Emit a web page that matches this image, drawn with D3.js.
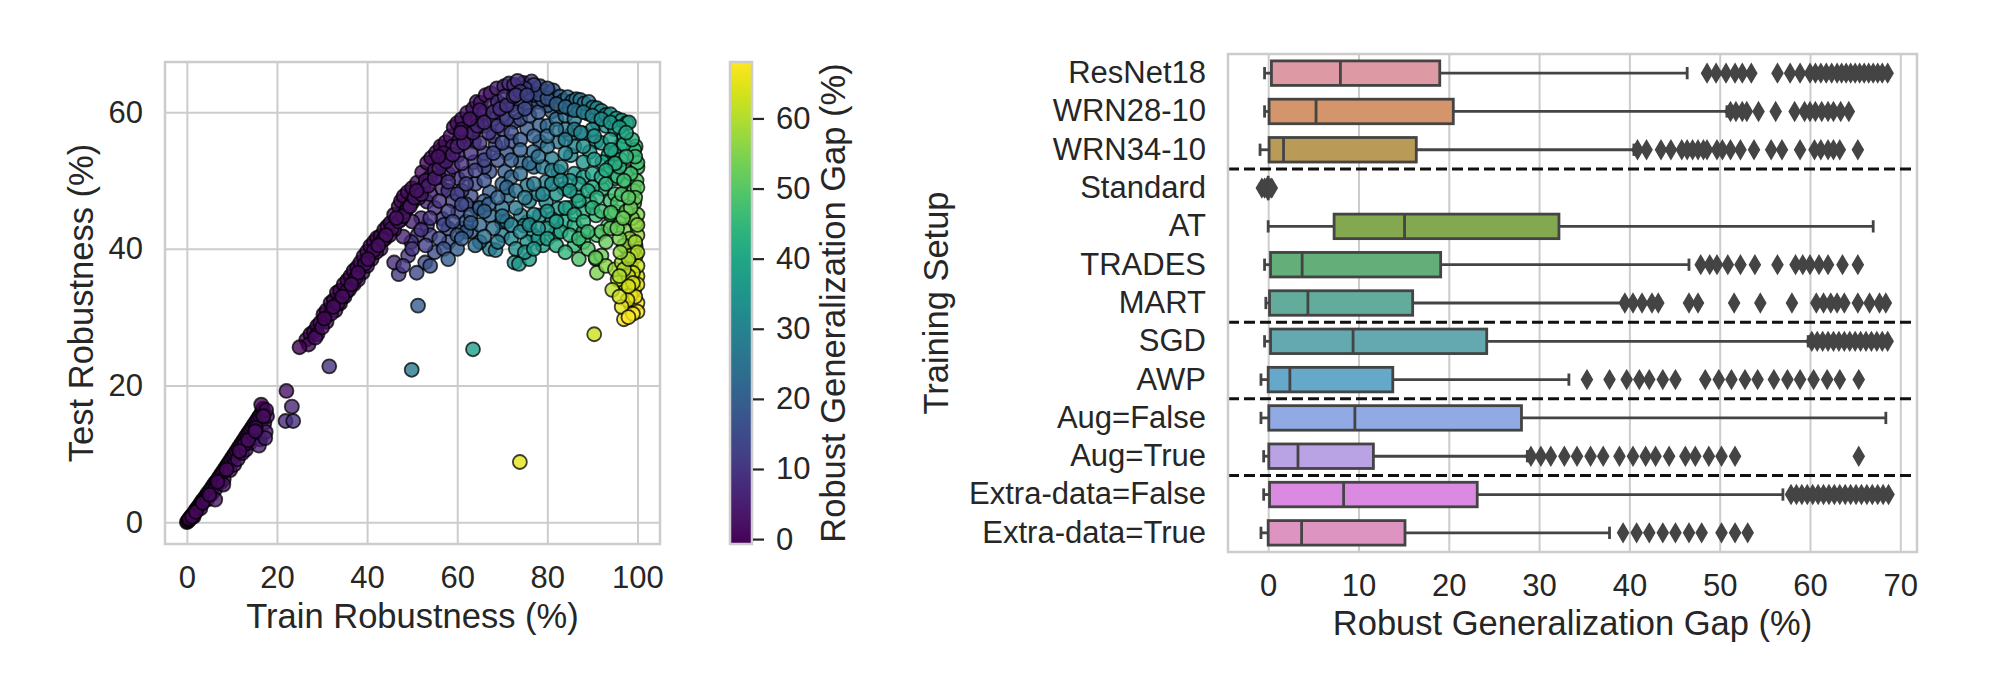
<!DOCTYPE html>
<html lang="en">
<head>
<meta charset="utf-8">
<title>Robust generalization</title>
<script src="https://cdn.jsdelivr.net/npm/d3@7"></script>
<style>
body { margin: 0; background: #fff; }
svg text { font-family: "Liberation Sans", Arial, sans-serif; fill: #262626; }
</style>
</head>
<body>
<script>
// ---- scatter data: [train robustness, test robustness] (%) ----
var lowBand = [
  [0,0],[0.2,0.1],[0.4,0.3],[0.6,0.4],[0.8,0.7],[1,0.9],[1.3,1.1],[1.6,1.4],[1.9,1.7],[2.2,2],
  [2.5,2.2],[2.8,2.5],[3.1,2.8],[3.4,3.1],[3.8,3.4],[4.2,3.8],[4.6,4.2],[5,4.5],[5.4,4.9],[5.8,5.3],
  [6.2,5.7],[6.6,6],[7,6.4],[7.4,6.8],[7.8,7.2],[8.2,7.6],[8.6,8],[9,8.4],[9.4,8.8],[9.8,9.2],
  [10.2,9.6],[10.6,10],[11,10.4],[11.4,10.8],[11.8,11.2],[12.2,11.6],[12.6,12],[13,12.4],[13.4,12.8],
  [13.8,13.2],[14.2,13.6],[14.6,14],[15,14.4],[15.4,14.8],[15.8,15.2],[16.2,15.6],[16.6,16],[16.9,16.6],
  [16.5,17.2],[1.5,0.8],[3,2],[4.5,3.3],[5.5,4.1],[6.3,4.8],[7.5,5.8],[8.2,6.3],[9.6,7.6],[10.5,8.4],
  [11.3,9.2],[12.3,10.1],[13.1,10.6],[14,11.6],[14.8,12.3],[15.6,13],[16.3,12.1],[17.2,14.5],[17.8,15.5],
  [17.5,13.2],[16,11.2],[8.1,5.5],[6.3,3.3],[12.8,11.4],[15.3,13.8],[17.6,16.4],[17.4,12.3],[17,15.5],
  [0.5,0.5],[1.2,0.8],[2,1.5],[3.5,2.8],[5,4],[6.8,5.9],[8.8,7.7],[11.7,10.4],[13.6,12],[15.2,13.3]
];
var isolated = [
  [22.1,19.2],[23.3,16.9],[21.9,14.8],[23.6,14.8],[25.0,25.6],[31.6,22.8],[49.9,22.3],
  [63.5,25.3],[73.9,8.8],[90.4,27.5],[90.7,38.7],[51.3,31.7]
];
var mainBand = [
  [26.5,26.7],[27.4,27.5],[28.2,27.9],[28.9,28.7],[29.6,29.2],[30.3,30.4],[31,31],[31.9,32.1],[32.6,32.5],
  [33.3,33.6],[34,33.9],[34.8,34.8],[35.6,35.4],[36.3,36],[37,36.8],[37.8,37.3],[38.5,38],[39.2,38.9],
  [40,39.6],[40.7,40.4],[41.5,41],[42.2,41.6],[43,41.9],[43.8,42.8],[44.5,43.3],[45.2,43.8],[46,45],
  [47,46.2],[47.5,47],[48.1,47.7],[49,48.3],[50,48.9],[51.1,49.7],[52.2,51.2],[53.3,52.6],[54.2,53.3],
  [55.3,54.1],[56.3,55],[57.4,55.6],[58.5,56.5],[59.2,57.8],[60,58.4],[61,59],[62.2,59.9],[63.5,60.5],
  [64.3,61.5],[65.2,61.4],[66.3,62.5],[67.4,62.8],[68.8,63.5],[70.4,63.8],[71.5,64.2],[72.6,64],[73.4,64.6],
  [29,27.5],[31,29.3],[33,31],[35,33],[37,34.8],[39,36.5],[41,38.5],[43,40],[44,41.5],[46,42.8],
  [47.5,44.3],[48.5,45.5],[50,46.8],[51.5,47.5],[52.5,49],[54,50.5],[55,51.5],[56.5,52.5],[58,53.5],
  [59,55],[60.5,56],[62,57],[63,58.5],[64.5,59],[66,60],[67.5,61],[69,61.5],[70.5,62.3],[36,34],
  [40,37.5],[45,42],[49,46],[53,50],[57,54],[61,57.5],[65,60.3],[42,39.5],[38,35.5],[34,32],
  [27,26],[28.5,27],[30,28.5],[32,30.5],[33.5,32],[35.5,33.8],[37.5,35.8],[39.5,37.8],[41.5,39.8],
  [43.5,41.3],[45.5,43],[47,44],[48,44.8],[49.5,46.2],[50.5,47.5],[52,48],[53.5,49.2],[55,50.3],
  [56,51.8],[57.5,52.8],[59,53.8],[60,55],[61.5,55.5],[63.5,57],[64.5,58],[66,58.5],[68,60],[69.5,60.5],
  [71,61],[72.5,62.3],[74,63],[73,62.5],[75.5,62.5],[60.8,57],[62.8,59],[55.8,53.5],[51,48.5],[46.5,44.5],
  [44.2,42],[42.5,40.5],[40.2,38.5],[38,36.5],[36.5,34.8],[34.5,33],[32.5,31.5],[30.5,29.8]
];
var arcTop = [
  [74.7,64.3],[75.8,63.8],[76.5,64.5],[77.6,63.3],[78.4,63.8],[79.5,63],[80.5,62.8],[81.3,63.2],
  [82.8,62.3],[83.6,61.7],[84.5,62.2],[85.5,61.6],[86.4,61.9],[87.3,61.8],[88.2,61.3],[89.2,61.5],
  [90.1,60.7],[91,60.6],[92,60.2],[93,59.6],[94,59.7],[95.3,59.1],[96.5,58.8],[97.6,58.4],[98.1,58.5],
  [76,62.8],[78,62.6],[80,62],[82,61.2],[84,60.8],[86,60.3],[88,60],[90,59.5],[92,59],[94,58.5],
  [96,57.8],[77,64],[80,63.5],[73.5,63.2],[75,63.5]
];
var interior = [
  [69.9,61.1],[72.7,58.6],[75.5,57.6],[78.3,58.1],[81,60.1],[78.3,55.7],[82.4,55.7],[85.2,56.7],[88,56.9],
  [90.8,55.7],[89.4,54.2],[93.5,53.7],[96.3,55.2],[92.2,52.7],[88,52.7],[85.2,53.7],[81,53.2],[76.9,54.2],
  [74.1,52.7],[70.6,51.3],[67.2,51.3],[63.7,52.7],[60.2,53.7],[56.7,54.7],[63.7,55.7],[68.5,55.2],[72,55.7],
  [60.2,50.3],[56.7,48.8],[53.3,46.9],[63,47.8],[67.2,48.3],[71.3,47.8],[75.5,49.3],[79.7,49.8],[82.4,51.3],
  [83.8,48.8],[86.6,47.8],[89.4,46.9],[92.2,48.8],[95,50.3],[97.7,51.3],[90.8,44.9],[88,45.4],[93.5,43.4],
  [96.3,43.9],[79.7,46.9],[82.4,45.9],[81,44.4],[78.3,44.9],[75.5,43.9],[74.1,44.9],[69.9,43.9],[67.2,44.9],
  [64.4,45.9],[60.2,45.4],[56.7,44.4],[53.3,43.4],[51.2,42],[49.8,41],[58.1,41],[63,42.5],[67.2,40],
  [68.5,39.8],[72.7,38],[73.7,37.8],[74.8,43.4],[76.9,42],[79,40.5],[75.5,41],[81.7,42.2],[90.8,38.5],
  [52.9,38],[49.1,39],[47,36.3],[62,56],[64,57.5],[66,58],[68,59],[70,59.5],[72,61],[74,61.5],[76,61],
  [78,61.5],[80,61],[66,54],[68,56.5],[70,57.5],[72,57],[74,59],[76,59.5],[78,60],[80,58],[82,59],
  [84,59.5],[86,59],[84,57.5],[86,55],[84,54],[80,55],[77,56.5],[74,56],[71,54],[69,53],[66,52],[62,51],
  [58,51],[56,50.5],[58,48.5],[61,48.5],[64,49.5],[66,50],[70,49.5],[72,50.5],[74,51],[77,52],[79,52],
  [81,51.5],[83,52],[86,51],[88,50.5],[90,51],[92,50.5],[94,52],[90,49],[87,49.5],[85,46],[84,44],
  [86,43.5],[88,42.5],[91,42],[94,47],[94,45],[76,47],[73,46],[70,46],[66,47],[62,46.5],[59,47],[55,46],
  [52,44.5],[54,42],[56,41.5],[61,43],[65,43.5],[70,42],[72,41.5],[77,45],[82,48],[85,50],[78,48],
  [62,44],[58,43],[55,39.5],[60,40],[62,42.5],[65,41],[71,44],[80,43],[83,42.5],[86,40.5],[88,41],
  [76,38.5],[78,41.5],
  [57,52.5],[59,52],[61,52.5],[63,54],[65,55.5],[67,57],[69,58],[71,59],[73,60],[75,60.5],[77,62.5],
  [79,61.8],[81,61.8],[83,60.8],[85,60.5],[87,60.3],[89,59.8],[91,58.5],[93,58],[95,57.5],[97,56.5],
  [58,49.8],[60,48],[62,49.5],[64,51.5],[66,53],[68,54],[70,55.5],[72,53],[74,54.5],[76,52.5],[78,53.5],
  [80,56.5],[82,57.5],[84,56],[86,57.5],[88,55],[90,57.5],[92,55.5],[94,56],[95,54],
  [54,48],[56,47],[58,45.5],[61,46.5],[63,45],[65,46],[67,46.5],[69,47.5],[71,49],[73,48.5],[75,47.5],
  [77,49.5],[79,48],[81,49.5],[83,50],[85,48.5],[87,47],[89,48.5],[91,47.5],[93,49.5],[95,48],
  [50,44],[52,42.8],[54,44.5],[57,43.5],[59,44],[60,42],[63,43.8],[66,45.5],[68,43],[70,44.8],[72,43.5],
  [74,42.5],[76,43.5],[78,43],[80,45.5],[82,44],[84,46],[86,45],[88,44],[90,46],[92,45.5],[95,45.5],
  [48,41.8],[50,40],[53,40.5],[57,40],[61,41.5],[64,40.5],[66,41.8],[69,41],[73,40],[75,39.5],[77,40],
  [80,41.5],[82,40.5],[85,42],[87,41.5],[89,42.5],[92,42.5],[94,43],
  [46,38],[48,37.5],[51,36.5],[54,37.5],[58,38.5],[84,39.5],[87,38.5],[89,40],[92,39],[93,41],[91,36.5],[93,37.5]
];
var rightColumn = [
  [99.6,55],[100,51.9],[95.6,50.6],[97.8,49.4],[99.3,46.7],[95.6,46.7],[94.1,45.3],[99.6,43.8],[97,42.8],
  [99.6,40.4],[97.8,39.9],[99.6,38.9],[98.5,37.5],[100,36],[97,35],[95.6,35.5],[94.4,34],[99.3,34],
  [98.5,31.9],[97,29.7],[100,32.1],[98.5,33.2],[99.3,54.5],[100,52.6],[96.3,53.1],[94.1,54.5],[97,55.3],
  [90.4,56.5],[87.4,57],[90.4,53.1],[99.8,50],[99.2,48.5],[100,45],[98.8,44.5],[100,42],[98.3,41.5],
  [99,39.5],[100,37.5],[99,36.5],[98,36],[100,34.8],[99.5,33],[97.8,32.5],[96.5,31.5],[100,30.8],
  [99,30.5],[98,30],[96,33],[95,37],[96.5,38],[97,40.5],[96,41.5],[97.5,45.5],[96.5,48],[98.5,51],
  [99.5,53.5],[98.8,56],[97.5,57],
  [100,49],[99.5,47.5],[98.5,46],[100,43.5],[99.5,41],[98.5,39],[100,39.5],[99,35],[98,34.5],[97,37],
  [96,36],[98,38.5],[96.2,39.5],[95.5,43],[96.8,44.5],[98,47.5],[97,50],[96,52],[97.5,53.5],[95,52.5],[93,51.5]
];
var xTicks = [0, 20, 40, 60, 80, 100];
var yTicks = [0, 20, 40, 60];
var gapTicks = [0, 10, 20, 30, 40, 50, 60];
var gapRange = [-0.7, 68.05];

// ---- box plot data (robust generalization gap, %) ----
var setups = ["ResNet18", "WRN28-10", "WRN34-10", "Standard", "AT", "TRADES", "MART",
              "SGD", "AWP", "Aug=False", "Aug=True", "Extra-data=False", "Extra-data=True"];
var boxColors = ["#dd9aa5", "#d5956a", "#b99b57", "#9ea650", "#84a84f", "#64ae7a", "#63ab9b",
                 "#64a9af", "#66a8c9", "#91aae4", "#b9a3e5", "#db8ae1", "#dd94c0"];
var whiskerLow  = [-0.4, -0.4, -0.9, 0, 0, -0.4, -0.26, -0.4, -0.8, -0.8, -0.5, -0.5, -0.8];
var q1          = [0.36, 0.1, 0.1, 0, 7.3, 0.26, 0.15, 0.26, 0, 0.07, 0.07, 0.15, 0];
var median      = [8.0, 5.3, 1.7, 0, 15.1, 3.76, 4.4, 9.4, 2.4, 9.6, 3.3, 8.35, 3.7];
var q3          = [19.0, 20.5, 16.4, 0, 32.2, 19.1, 16.0, 24.2, 13.8, 28.05, 11.65, 23.15, 15.15];
var whiskerHigh = [46.4, 50.8, 40.5, 0, 67.0, 46.6, 39.3, 59.8, 33.3, 68.4, 28.7, 57.0, 37.8];
var outliers = [
  [48.6,49.6,50.7,51.7,52.5,53.5,56.4,57.8,58.9,60,60.6,61.2,61.8,62.4,63,63.5,64,64.5,65,65.5,66,66.5,67,67.5,68,68.6],
  [51.2,51.8,52.5,53,54.3,56.2,58.3,59.4,60,60.6,61.3,62,62.6,63.4,64.3],
  [40.9,41.9,43.5,44.6,45.8,46.4,47,47.6,48.2,48.6,49.7,50.3,51.2,52.3,53.8,55.7,56.9,58.9,60.5,61.2,62,62.6,63.3,65.3],
  [-0.7,-0.4,-0.2,0.2,0.4],
  [],
  [47.9,48.9,49.7,50.9,52.3,53.9,56.4,58.4,59.2,60,61,62,63.6,65.3],
  [39.5,40.4,41.4,42.5,43.2,46.6,47.6,51.6,54.5,58,60.7,61.5,62.3,63,63.8,65.3,66.6,67.7,68.4],
  [60.2,60.8,61.4,62,62.6,63.2,63.8,64.4,65,65.6,66.2,66.8,67.4,68,68.6],
  [35.3,37.8,39.7,41.1,42.2,43.7,45.1,48.4,49.9,51.3,52.8,54.2,56,57.5,58.9,60.4,61.9,63.3,65.4],
  [],
  [29.1,30.2,31.3,32.8,34.2,35.7,37.1,38.9,40.4,41.8,42.9,44.4,46.2,47.3,48.8,50.2,51.7,65.4],
  [57.9,58.5,59.1,59.7,60.3,60.9,61.5,62.1,62.7,63.3,63.9,64.5,65.1,65.7,66.3,66.9,67.5,68.1,68.7],
  [39.3,40.8,42.2,43.7,45.1,46.6,48,50.2,51.7,53.1]
];
var groupStarts = ["Standard", "SGD", "Aug=False", "Extra-data=False"];
var gapAxisTicks = [0, 10, 20, 30, 40, 50, 60, 70];

var W = 1994, H = 678;
var tickFont = "31px", labelFont = "34.5px";
var gridColor = "#cccccc";

var svg = d3.select("body").append("svg")
            .attr("width", W)
            .attr("height", H);

// ================= scatter =================
var sc = { left: 165, right: 660, top: 62, bottom: 544 };
var x = d3.scaleLinear().domain([-4.85, 105.0]).range([sc.left, sc.right]);
var y = d3.scaleLinear().domain([-3.2, 67.35]).range([sc.bottom, sc.top]);
var gapColor = d3.scaleSequential(d3.interpolateViridis).domain(gapRange).clamp(true);

var gx = svg.append("g")
  .attr("transform", "translate(0," + sc.bottom + ")")
  .call(d3.axisBottom(x).tickValues(xTicks).tickSizeInner(-(sc.bottom - sc.top)).tickSizeOuter(0).tickPadding(22));
var gy = svg.append("g")
  .attr("transform", "translate(" + sc.left + ",0)")
  .call(d3.axisLeft(y).tickValues(yTicks).tickSizeInner(-(sc.right - sc.left)).tickSizeOuter(0).tickPadding(22));
[gx, gy].forEach(function(g) {
  g.select(".domain").remove();
  g.selectAll(".tick line").attr("stroke", gridColor).attr("stroke-width", 2);
  g.selectAll(".tick text").attr("font-size", tickFont).attr("font-family", null).attr("fill", "#262626");
});
gx.selectAll(".tick text").attr("dy", "0.71em");

var scatterData = [].concat(interior, arcTop, rightColumn, mainBand, lowBand, isolated);
svg.append("g")
   .selectAll("circle")
   .data(scatterData)
   .enter()
   .append("circle")
   .attr("cx", function(d) { return x(d[0]); })
   .attr("cy", function(d) { return y(d[1]); })
   .attr("r", 7)
   .attr("fill", function(d) { return gapColor(d[0] - d[1]); })
   .attr("fill-opacity", 0.8)
   .attr("stroke", "#000")
   .attr("stroke-opacity", 0.75)
   .attr("stroke-width", 1.8);

svg.append("rect")
   .attr("x", sc.left).attr("y", sc.top)
   .attr("width", sc.right - sc.left).attr("height", sc.bottom - sc.top)
   .attr("fill", "none").attr("stroke", gridColor).attr("stroke-width", 2.5);

svg.append("text")
   .attr("x", (sc.left + sc.right) / 2).attr("y", 628)
   .attr("text-anchor", "middle").attr("font-size", labelFont)
   .text("Train Robustness (%)");
svg.append("text")
   .attr("transform", "translate(93," + (sc.top + sc.bottom) / 2 + ") rotate(-90)")
   .attr("text-anchor", "middle").attr("font-size", labelFont)
   .text("Test Robustness (%)");

// ================= colorbar =================
var cb = { left: 730, right: 752, top: 62, bottom: 544 };
var cy = d3.scaleLinear().domain(gapRange).range([cb.bottom, cb.top]);
var grad = svg.append("defs").append("linearGradient")
  .attr("id", "viridisGrad")
  .attr("x1", 0).attr("y1", 1).attr("x2", 0).attr("y2", 0);
grad.selectAll("stop")
  .data(d3.range(0, 1.0001, 0.02))
  .enter()
  .append("stop")
  .attr("offset", function(t) { return t; })
  .attr("stop-color", function(t) { return d3.interpolateViridis(t); });
svg.append("rect")
   .attr("x", cb.left).attr("y", cb.top)
   .attr("width", cb.right - cb.left).attr("height", cb.bottom - cb.top)
   .attr("fill", "url(#viridisGrad)")
   .attr("stroke", gridColor).attr("stroke-width", 2.5);
var gc = svg.append("g")
  .attr("transform", "translate(" + (cb.right + 1) + ",0)")
  .call(d3.axisRight(cy).tickValues(gapTicks).tickSize(11).tickPadding(12));
gc.select(".domain").remove();
gc.selectAll(".tick line").attr("stroke", "#262626").attr("stroke-width", 2.2);
gc.selectAll(".tick text").attr("font-size", tickFont).attr("font-family", null).attr("fill", "#262626");
svg.append("text")
   .attr("transform", "translate(845," + (cb.top + cb.bottom) / 2 + ") rotate(-90)")
   .attr("text-anchor", "middle").attr("font-size", labelFont)
   .text("Robust Generalization Gap (%)");

// ================= box plot =================
var bp = { left: 1228, right: 1917, top: 54, bottom: 552 };
var bx = d3.scaleLinear().domain([-4.45, 71.85]).range([bp.left, bp.right]);
var by = d3.scaleBand().domain(setups).range([bp.top, bp.bottom])
           .paddingInner(0.36).paddingOuter(0.18);
var bh = by.bandwidth();
var edge = "#444444";

var gbx = svg.append("g")
  .attr("transform", "translate(0," + bp.bottom + ")")
  .call(d3.axisBottom(bx).tickValues(gapAxisTicks).tickSizeInner(-(bp.bottom - bp.top)).tickSizeOuter(0).tickPadding(22));
gbx.select(".domain").remove();
gbx.selectAll(".tick line").attr("stroke", gridColor).attr("stroke-width", 2);
gbx.selectAll(".tick text").attr("font-size", tickFont).attr("font-family", null).attr("fill", "#262626").attr("dy", "0.71em");

var gby = svg.append("g")
  .attr("transform", "translate(" + bp.left + ",0)")
  .call(d3.axisLeft(by).tickSize(0).tickPadding(22));
gby.select(".domain").remove();
gby.selectAll(".tick text").attr("font-size", tickFont).attr("font-family", null).attr("fill", "#262626");

var rows = svg.append("g")
  .selectAll("g")
  .data(setups)
  .enter()
  .append("g")
  .attr("transform", function(d) { return "translate(0," + by(d) + ")"; });

// whiskers
rows.append("line")
    .attr("x1", function(d, i) { return bx(whiskerLow[i]); })
    .attr("x2", function(d, i) { return bx(q1[i]); })
    .attr("y1", bh / 2).attr("y2", bh / 2);
rows.append("line")
    .attr("x1", function(d, i) { return bx(q3[i]); })
    .attr("x2", function(d, i) { return bx(whiskerHigh[i]); })
    .attr("y1", bh / 2).attr("y2", bh / 2);
// caps
rows.append("line")
    .attr("x1", function(d, i) { return bx(whiskerLow[i]); })
    .attr("x2", function(d, i) { return bx(whiskerLow[i]); })
    .attr("y1", bh / 2 - bh / 4).attr("y2", bh / 2 + bh / 4);
rows.append("line")
    .attr("x1", function(d, i) { return bx(whiskerHigh[i]); })
    .attr("x2", function(d, i) { return bx(whiskerHigh[i]); })
    .attr("y1", bh / 2 - bh / 4).attr("y2", bh / 2 + bh / 4);
rows.selectAll("line").attr("stroke", edge).attr("stroke-width", 2.8);
// boxes
rows.append("rect")
    .attr("x", function(d, i) { return bx(q1[i]); })
    .attr("width", function(d, i) { return bx(q3[i]) - bx(q1[i]); })
    .attr("y", 0).attr("height", bh)
    .attr("fill", function(d, i) { return boxColors[i]; })
    .attr("stroke", edge).attr("stroke-width", 2.8);
rows.append("line")
    .attr("x1", function(d, i) { return bx(median[i]); })
    .attr("x2", function(d, i) { return bx(median[i]); })
    .attr("y1", 0).attr("y2", bh)
    .attr("stroke", edge).attr("stroke-width", 2.8);
// fliers (thin diamonds)
rows.each(function(d, i) {
  d3.select(this).selectAll("path.flier")
    .data(outliers[i])
    .enter()
    .append("path")
    .attr("class", "flier")
    .attr("d", "M0,-9.5L5.6,0L0,9.5L-5.6,0Z")
    .attr("transform", function(v) { return "translate(" + bx(v) + "," + bh / 2 + ")"; })
    .attr("fill", edge)
    .attr("stroke", edge)
    .attr("stroke-width", 1.2)
    .attr("stroke-linejoin", "miter");
});

// group separators
var gapPad = (by.step() - bh) / 2;
svg.append("g")
   .selectAll("line")
   .data(groupStarts)
   .enter()
   .append("line")
   .attr("x1", bp.left).attr("x2", bp.right)
   .attr("y1", function(d) { return by(d) - gapPad; })
   .attr("y2", function(d) { return by(d) - gapPad; })
   .attr("stroke", "#111")
   .attr("stroke-width", 3)
   .attr("stroke-dasharray", "11,5");

svg.append("rect")
   .attr("x", bp.left).attr("y", bp.top)
   .attr("width", bp.right - bp.left).attr("height", bp.bottom - bp.top)
   .attr("fill", "none").attr("stroke", gridColor).attr("stroke-width", 2.5);

svg.append("text")
   .attr("x", (bp.left + bp.right) / 2).attr("y", 635)
   .attr("text-anchor", "middle").attr("font-size", labelFont)
   .text("Robust Generalization Gap (%)");
svg.append("text")
   .attr("transform", "translate(948," + (bp.top + bp.bottom) / 2 + ") rotate(-90)")
   .attr("text-anchor", "middle").attr("font-size", labelFont)
   .text("Training Setup");
</script>
</body>
</html>
